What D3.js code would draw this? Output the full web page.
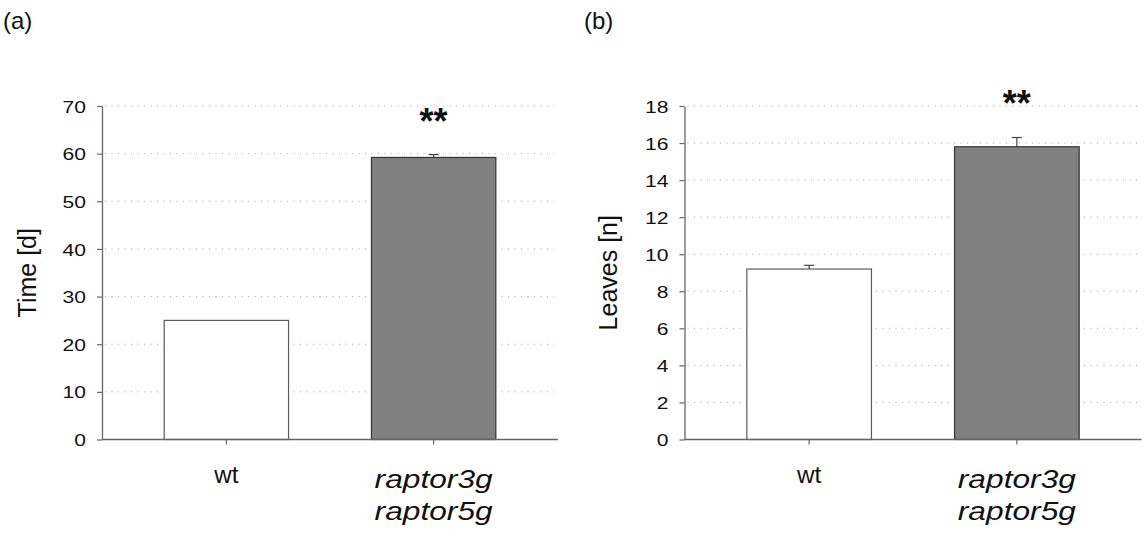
<!DOCTYPE html>
<html>
<head>
<meta charset="utf-8">
<script src="https://cdn.jsdelivr.net/npm/d3@7"></script>
<style>
  html, body { margin: 0; padding: 0; background: #fff; }
  svg { display: block; font-family: "Liberation Sans", Arial, sans-serif; }
</style>
</head>
<body>
<svg id="chart" width="1144" height="533"></svg>
<script>
// Genotypes on the x axis (second one is a double mutant, drawn on two lines)
const categories = ["wt", "raptor3g/raptor5g"];
const categoryLines = [["wt"], ["raptor3g", "raptor5g"]];
const barFills = ["#ffffff", "#808080"];
const barStrokes = ["#5a5a5a", "#333333"];

// (a) time to flowering, days (mean, SE)
const timeMean = [25.0, 59.2];
const timeSE = [0.0, 0.6];
const timeTicks = [0, 10, 20, 30, 40, 50, 60, 70];

// (b) rosette leaves at flowering (mean, SE)
const leafMean = [9.2, 15.8];
const leafSE = [0.2, 0.5];
const leafTicks = [0, 2, 4, 6, 8, 10, 12, 14, 16, 18];

// significance marks above each bar
const significance = ["", "**"];

const svg = d3.select("#chart");

const panels = [
  { tag: "(a)", tagX: 3, left: 102, right: 558, title: "Time [d]", titleX: 36,
    mean: timeMean, se: timeSE, ticks: timeTicks },
  { tag: "(b)", tagX: 584, left: 684.5, right: 1141.5, title: "Leaves [n]", titleX: 617,
    mean: leafMean, se: leafSE, ticks: leafTicks }
];

const plotTop = 106, plotBottom = 439.5;
const axisColor = "#666";

panels.forEach(p => {
  const g = svg.append("g");

  const x = d3.scaleBand()
    .domain(categories)
    .range([p.left, p.right])
    .paddingInner(0.4)
    .paddingOuter(0.3);

  const y = d3.scaleLinear()
    .domain([0, d3.max(p.ticks)])
    .range([plotBottom, plotTop]);

  // panel tag
  g.append("text")
    .attr("x", p.tagX).attr("y", 29)
    .attr("font-size", 24)
    .attr("fill", "#111")
    .text(p.tag);

  // dotted horizontal grid
  g.append("g").selectAll("line")
    .data(p.ticks.filter(t => t > 0))
    .join("line")
    .attr("x1", p.left + 3).attr("x2", p.right - 4)
    .attr("y1", d => y(d)).attr("y2", d => y(d))
    .attr("stroke", "#a8a8a8")
    .attr("stroke-width", 1)
    .attr("stroke-dasharray", "1,5.5");

  // bars
  g.append("g").selectAll("rect")
    .data(p.mean)
    .join("rect")
    .attr("x", (d, i) => x(categories[i]))
    .attr("width", x.bandwidth())
    .attr("y", d => y(d))
    .attr("height", d => y(0) - y(d))
    .attr("fill", (d, i) => barFills[i])
    .attr("stroke", (d, i) => barStrokes[i])
    .attr("stroke-width", 1.2);

  // upper error bars
  const eb = g.append("g").selectAll("g")
    .data(p.mean.map((m, i) => ({ m, s: p.se[i], c: categories[i] })).filter(d => d.s > 0))
    .join("g")
    .attr("stroke", "#444")
    .attr("stroke-width", 1.2);
  eb.append("line")
    .attr("x1", d => x(d.c) + x.bandwidth() / 2).attr("x2", d => x(d.c) + x.bandwidth() / 2)
    .attr("y1", d => y(d.m)).attr("y2", d => y(d.m + d.s));
  eb.append("line")
    .attr("x1", d => x(d.c) + x.bandwidth() / 2 - 5).attr("x2", d => x(d.c) + x.bandwidth() / 2 + 5)
    .attr("y1", d => y(d.m + d.s)).attr("y2", d => y(d.m + d.s));

  // significance stars
  g.append("g").selectAll("text")
    .data(p.mean.map((m, i) => ({ m, s: p.se[i], c: categories[i], t: significance[i] })).filter(d => d.t))
    .join("text")
    .attr("x", d => x(d.c) + x.bandwidth() / 2)
    .attr("y", d => y(d.m + d.s) - 21)
    .attr("text-anchor", "middle")
    .attr("font-size", 36)
    .attr("font-weight", "bold")
    .attr("fill", "#111")
    .text(d => d.t);

  // y axis
  const yAxis = g.append("g")
    .attr("transform", `translate(${p.left},0)`)
    .call(d3.axisLeft(y).tickValues(p.ticks).tickSize(5).tickSizeOuter(0));
  yAxis.select(".domain").attr("stroke", axisColor).attr("stroke-width", 1.3);
  yAxis.selectAll(".tick line").attr("stroke", axisColor).attr("stroke-width", 1.2);
  yAxis.selectAll(".tick text")
    .attr("x", 0).attr("dy", "0.36em")
    .attr("transform", "translate(-16,0) scale(1.24,1)")
    .attr("font-size", 17)
    .attr("font-family", "Liberation Sans, Arial, sans-serif")
    .attr("fill", "#111");

  // x axis baseline spanning the plot
  g.append("line")
    .attr("x1", p.left).attr("x2", p.right)
    .attr("y1", y(0)).attr("y2", y(0))
    .attr("stroke", axisColor).attr("stroke-width", 1.5);

  const xAxis = g.append("g")
    .attr("transform", `translate(0,${y(0)})`)
    .call(d3.axisBottom(x).tickSize(5).tickSizeOuter(0).tickFormat(""));
  xAxis.select(".domain").remove();
  xAxis.selectAll(".tick line").attr("stroke", axisColor).attr("stroke-width", 1.2);

  // category labels
  categories.forEach((c, i) => {
    const cx = x(c) + x.bandwidth() / 2;
    const italic = categoryLines[i].length > 1;
    categoryLines[i].forEach((line, j) => {
      g.append("text")
        .attr("transform", `translate(${cx},${(italic ? 488 : 483) + j * 31.5}) scale(${italic ? 1.22 : 1.05},1)`)
        .attr("text-anchor", "middle")
        .attr("font-size", italic ? 26 : 23)
        .attr("font-style", italic ? "italic" : "normal")
        .attr("fill", "#111")
        .text(line);
    });
  });

  // y axis title
  g.append("text")
    .attr("transform", `translate(${p.titleX},${(plotTop + plotBottom) / 2}) rotate(-90)`)
    .attr("text-anchor", "middle")
    .attr("font-size", 25)
    .attr("fill", "#111")
    .text(p.title);
});
</script>
</body>
</html>
